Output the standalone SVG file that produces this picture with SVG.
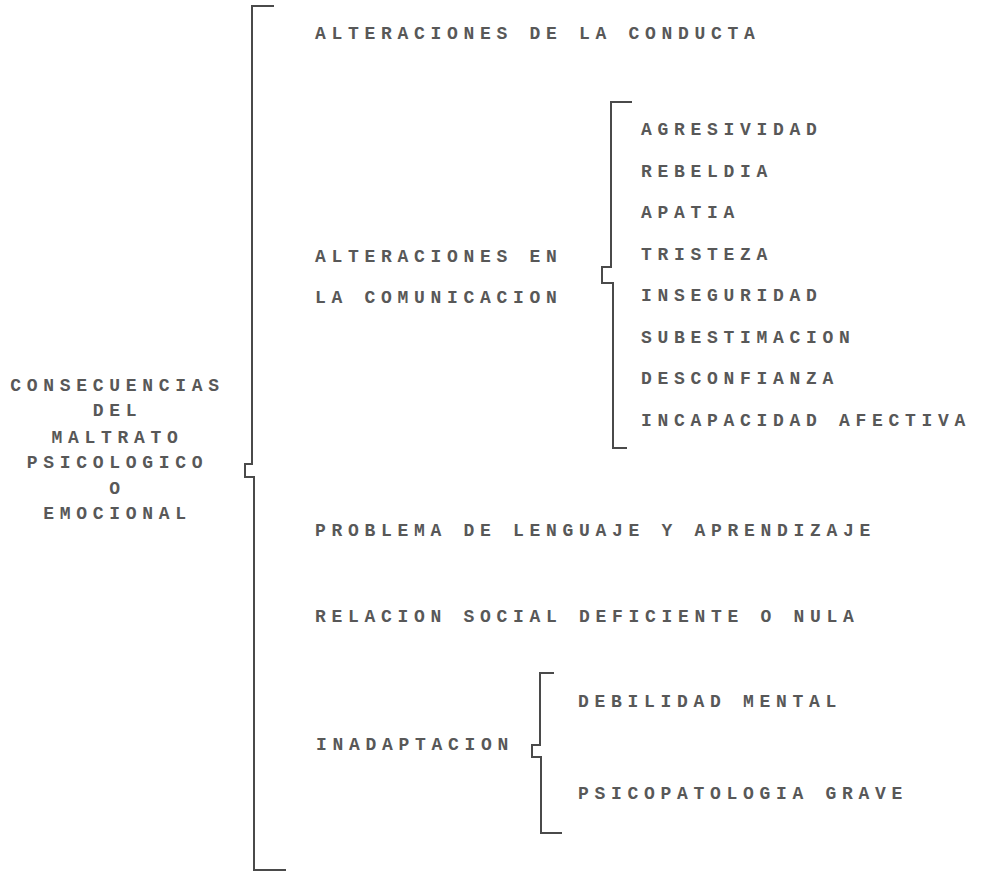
<svg xmlns="http://www.w3.org/2000/svg" width="984" height="872" viewBox="0 0 984 872">
<style>
text{font-family:"Liberation Mono","DejaVu Sans Mono",monospace;font-size:18px;font-weight:bold;fill:#585858;letter-spacing:5.7px}
.c{text-anchor:middle}
.br{fill:none;stroke:#4a4a4a;stroke-width:2;stroke-linejoin:miter}
</style>
<rect width="984" height="872" fill="#ffffff"/>
<g id="root">
<text class="c" x="117.5" y="391">CONSECUENCIAS</text>
<text class="c" x="117.5" y="416">DEL</text>
<text class="c" x="117.5" y="443">MALTRATO</text>
<text class="c" x="117.5" y="468">PSICOLOGICO</text>
<text class="c" x="117.5" y="494">O</text>
<text class="c" x="117.5" y="519">EMOCIONAL</text>
</g>
<g id="conducta"><text x="315" y="39">ALTERACIONES DE LA CONDUCTA</text></g>
<g id="comunicacion">
<text x="315" y="262">ALTERACIONES EN</text>
<text x="315" y="303">LA COMUNICACION</text>
</g>
<g id="comunicacion-items">
<text x="641" y="135">AGRESIVIDAD</text>
<text x="641" y="177">REBELDIA</text>
<text x="641" y="218">APATIA</text>
<text x="641" y="260">TRISTEZA</text>
<text x="641" y="301">INSEGURIDAD</text>
<text x="641" y="343">SUBESTIMACION</text>
<text x="641" y="384">DESCONFIANZA</text>
<text x="641" y="426">INCAPACIDAD AFECTIVA</text>
</g>
<g id="lenguaje"><text x="315" y="536">PROBLEMA DE LENGUAJE Y APRENDIZAJE</text></g>
<g id="social"><text x="315" y="622">RELACION SOCIAL DEFICIENTE O NULA</text></g>
<g id="inadaptacion"><text x="316" y="750">INADAPTACION</text></g>
<g id="inadaptacion-items">
<text x="578" y="707">DEBILIDAD MENTAL</text>
<text x="578" y="799">PSICOPATOLOGIA GRAVE</text>
</g>
<g id="connectors">
<path class="br" d="M274,6 H252 V464 H245 V477 H254 V870 H286"/>
<path class="br" d="M632,102 H611 V267 H602 V283 H613 V448 H627"/>
<path class="br" d="M554,673 H540 V745 H532 V757 H541 V833 H562"/>
</g>
</svg>
